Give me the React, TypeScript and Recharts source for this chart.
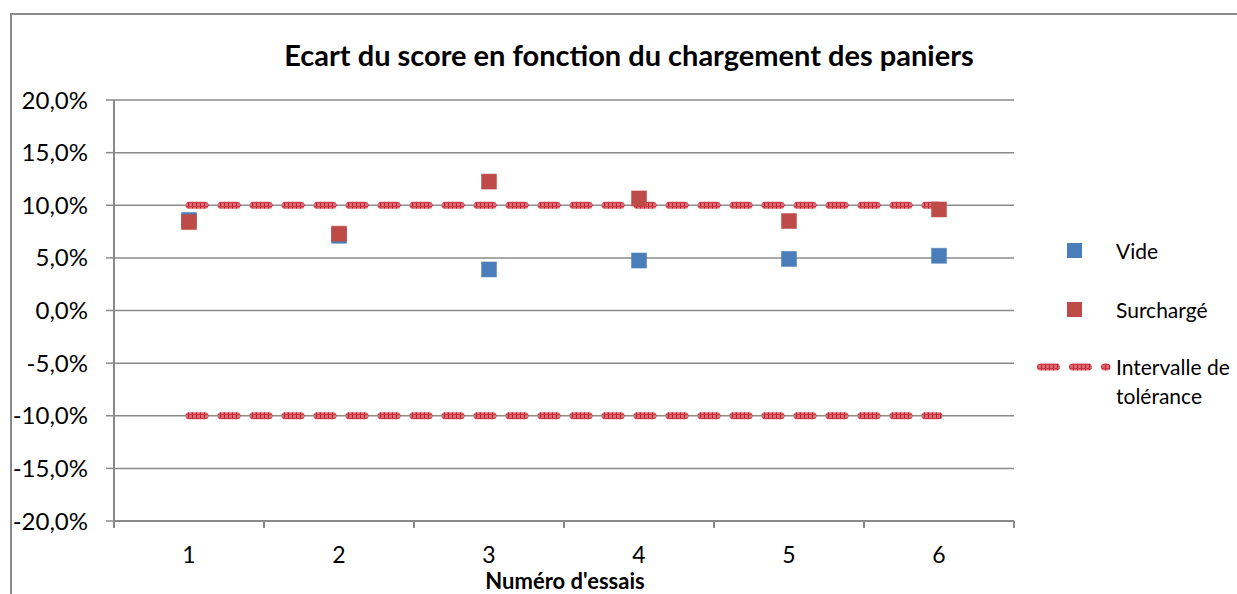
import React from "react";
import { CartesianGrid, ComposedChart, Line, XAxis, YAxis } from "recharts";

// valeurs (fractions, 0.1 = 10 %)
const essais = [1, 2, 3, 4, 5, 6];
const vide = [0.086, 0.071, 0.039, 0.0475, 0.049, 0.052];
const surcharge = [0.084, 0.073, 0.1225, 0.1065, 0.085, 0.096];
const toleranceHaut = [0.1, 0.1, 0.1, 0.1, 0.1, 0.1];
const toleranceBas = [-0.1, -0.1, -0.1, -0.1, -0.1, -0.1];
const yTicks = [-0.2, -0.15, -0.1, -0.05, 0, 0.05, 0.1, 0.15, 0.2];
const xTicks = [0.5, 1, 1.5, 2, 2.5, 3, 3.5, 4, 4.5, 5, 5.5, 6, 6.5];

const TITLE = "Ecart du score en fonction du chargement des paniers";
const X_TITLE = "Numéro d'essais";
const SERIES = [
  { name: "Vide", color: "#4a7ebb" },
  { name: "Surchargé", color: "#be4b48" },
];

const FONT = "Lato, 'Liberation Sans', sans-serif";
const GRID = "#8a8a8a";

const data = essais.map((essai, i) => ({
  essai,
  vide: vide[i],
  surcharge: surcharge[i],
  tolHaut: toleranceHaut[i],
  tolBas: toleranceBas[i],
}));

function formatPct(v: number): string {
  return `${(v * 100).toFixed(1).replace(".", ",")}%`;
}

function squareDot(color: string) {
  return (props: any) => {
    const { cx, cy, index } = props;
    if (cx == null || cy == null) return <g key={index} />;
    return (
      <rect
        key={index}
        x={cx - 7.5}
        y={cy - 7.5}
        width={15}
        height={15}
        fill={color}
        stroke={color}
        strokeOpacity={0.5}
        strokeWidth={1}
      />
    );
  };
}

// labels at category centres, tick marks between categories (Excel style)
function XTick(props: any) {
  const { x, y, payload } = props;
  if (Number.isInteger(payload.value)) {
    return (
      <text x={x} y={y + 42} textAnchor="middle" fontSize={23} fontFamily={FONT} fill="#000">
        {payload.value}
      </text>
    );
  }
  return <line x1={x} x2={x} y1={y} y2={y + 7} stroke={GRID} strokeWidth={2} />;
}

export default function App() {
  return (
    <div
      style={{
        position: "fixed",
        left: 0,
        top: 0,
        width: 1237,
        height: 594,
        background: "#fff",
        overflow: "hidden",
        fontFamily: FONT,
      }}
    >
      <div
        style={{
          position: "absolute",
          left: 10,
          top: 13,
          width: 1300,
          height: 700,
          border: `2px solid ${GRID}`,
        }}
      />
      <div
        style={{
          position: "absolute",
          left: 179,
          top: 38,
          width: 900,
          textAlign: "center",
          fontSize: 29,
          fontWeight: 700,
          lineHeight: "34px",
        }}
      >
        {TITLE}
      </div>
      <div
        style={{
          position: "absolute",
          left: 365,
          top: 569,
          width: 400,
          textAlign: "center",
          fontSize: 22,
          fontWeight: 700,
          lineHeight: "23px",
        }}
      >
        {X_TITLE}
      </div>

      <div style={{ position: "absolute", left: 0, top: 0 }}>
        <ComposedChart
          width={1237}
          height={594}
          data={data}
          margin={{ top: 100, right: 223, bottom: 0, left: 0 }}
        >
          <defs>
            <pattern id="tol-hatch" patternUnits="userSpaceOnUse" width={4} height={4}>
              <rect width={4} height={4} fill="#dc6a72" />
              <rect width={1} height={4} fill="#c01f2b" />
              <rect width={4} height={1} y={2} fill="#c93a45" />
            </pattern>
          </defs>
          <CartesianGrid vertical={false} stroke={GRID} strokeWidth={1.5} />
          <XAxis
            dataKey="essai"
            type="number"
            domain={[0.5, 6.5]}
            ticks={xTicks}
            interval={0}
            height={73}
            tickSize={0}
            tickMargin={0}
            tickLine={false}
            axisLine={{ stroke: GRID, strokeWidth: 2 }}
            tick={<XTick />}
          />
          <YAxis
            domain={[-0.2, 0.2]}
            ticks={yTicks}
            interval={0}
            width={114}
            tickSize={8}
            tickMargin={18}
            tickFormatter={formatPct}
            axisLine={{ stroke: GRID, strokeWidth: 2 }}
            tickLine={{ stroke: GRID, strokeWidth: 1.5 }}
            tick={{ fill: "#000", fontSize: 24, fontFamily: FONT }}
          />
          <Line
            dataKey="tolHaut"
            stroke="url(#tol-hatch)"
            strokeWidth={7}
            strokeDasharray="16 16"
            strokeLinecap="round"
            dot={false}
            activeDot={false}
            isAnimationActive={false}
          />
          <Line
            dataKey="tolBas"
            stroke="url(#tol-hatch)"
            strokeWidth={7}
            strokeDasharray="16 16"
            strokeLinecap="round"
            dot={false}
            activeDot={false}
            isAnimationActive={false}
          />
          <Line
            dataKey="vide"
            name={SERIES[0].name}
            stroke="none"
            dot={squareDot(SERIES[0].color)}
            activeDot={false}
            isAnimationActive={false}
          />
          <Line
            dataKey="surcharge"
            name={SERIES[1].name}
            stroke="none"
            dot={squareDot(SERIES[1].color)}
            activeDot={false}
            isAnimationActive={false}
          />
        </ComposedChart>
      </div>

      {/* legend */}
      <div style={{ position: "absolute", left: 1040, top: 230, width: 200, fontSize: 21 }}>
        {SERIES.map((s, i) => (
          <div
            key={s.name}
            style={{ position: "absolute", left: 0, top: i * 59, height: 40, display: "flex", alignItems: "center" }}
          >
            <div style={{ width: 15, height: 15, marginLeft: 27, background: s.color }} />
            <span style={{ marginLeft: 34 }}>{s.name}</span>
          </div>
        ))}
        <svg style={{ position: "absolute", left: -3, top: 132 }} width={76} height={10}>
          <line
            x1={3.5}
            x2={70}
            y1={5}
            y2={5}
            stroke="url(#tol-hatch)"
            strokeWidth={7}
            strokeDasharray="16 16"
            strokeLinecap="round"
          />
        </svg>
        <div style={{ position: "absolute", left: 76, top: 122, lineHeight: "29px", whiteSpace: "nowrap" }}>
          Intervalle de
          <br />
          tolérance
        </div>
      </div>
    </div>
  );
}
